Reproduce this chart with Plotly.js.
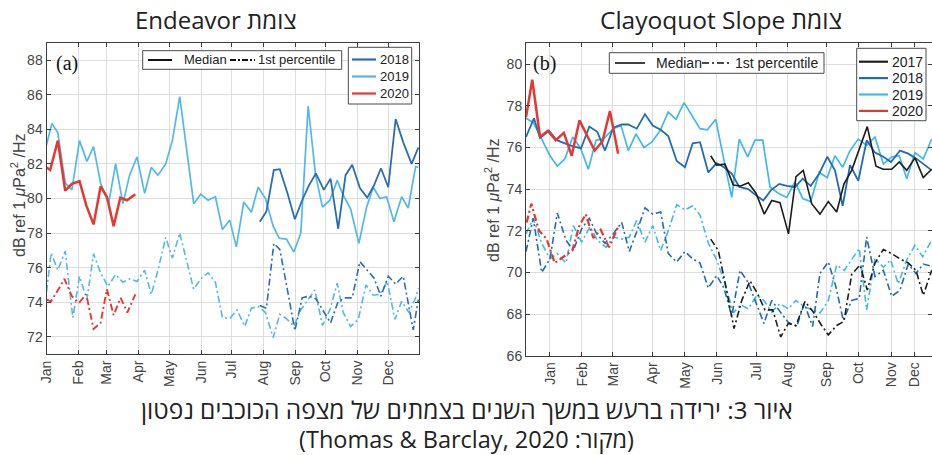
<!DOCTYPE html>
<html><head><meta charset="utf-8">
<script src="https://cdn.plot.ly/plotly-3.0.1.min.js"></script>
<style>html,body{margin:0;padding:0;background:#fff;overflow:hidden;}</style>
</head><body><div id="chart" style="width:932px;height:455px;"></div>
<script>
// ---------- DATA (x in weeks of the year, y in dB) ----------
const months = ['Jan','Feb','Mar','Apr','May','Jun','Jul','Aug','Sep','Oct','Nov','Dec'];
const leftMonthTicks  = [0,4.43,8.43,12.86,17.14,21.57,25.86,30.29,34.71,39,43.43,47.71];
const rightMonthTicks = [3.07,7.17,11.14,16.26,20.36,24.46,29.58,33.55,38.54,42.64,46.86,49.8];
const leftYTicks  = [72,74,76,78,80,82,84,86,88];
const rightYTicks = [66,68,70,72,74,76,78,80];

// Endeavor (a)
const A2019medX = [0,0.75,1.58,2.61,3.54,4.61,5.64,6.57,7.55,8.67,9.65,10.67,11.6,12.63,13.7,14.63,15.56,16.64,17.57,18.6,20.55,21.53,22.55,23.58,24.56,25.58,26.5,27.54,28.6,29.54,30.57,31.64,32.48,33.5,34.53,35.5,36.53,37.56,38.53,39.56,40.58,41.42,42.45,43.61,44.68,45.61,46.55,47.48,48.5,49.58,50.5,51.53,51.9];
const A2019medY = [83.1,84.35,83.8,80.9,80.5,83.35,82.15,83.0,80.9,79.7,82.0,79.7,81.35,82.4,80.3,81.8,81.35,82.0,83.35,85.9,79.7,80.25,79.9,80.1,78.2,78.75,77.2,79.8,79.2,80.65,80.0,78.4,77.7,77.65,76.9,78.0,85.35,81.35,79.5,79.9,81.05,80.2,79.4,77.4,79.5,80.65,80.0,80.1,78.65,80.1,79.45,81.85,81.8];
const A2018medX = [29.77,30.7,31.73,32.57,33.64,34.67,35.69,36.62,37.6,38.72,39.65,40.72,41.75,42.68,43.75,44.77,45.71,46.69,47.71,48.74,49.8,50.97,51.9];
const A2018medY = [78.65,79.25,81.65,81.7,80.3,78.8,79.9,80.75,81.45,80.5,81.15,78.25,81.35,81.95,80.6,80.05,80.75,81.75,80.65,84.6,83.25,82.0,82.95];
const A2020medX = [0,0.51,1.58,2.61,3.54,4.61,5.55,6.57,7.55,8.43,9.37,10.3,11.23,12.4];
const A2020medY = [81.8,81.65,83.35,80.45,80.85,81.0,79.6,78.5,80.7,80.1,78.4,80.05,79.9,80.25];
const A2019pctX = [0,0.65,1.58,2.61,3.68,4.61,5.64,6.57,7.55,8.57,9.65,10.67,11.6,12.63,13.7,14.63,15.56,16.64,17.57,18.6,19.52,20.55,21.53,22.55,23.58,24.56,25.58,26.6,27.68,28.6,29.54,30.57,31.64,32.57,33.5,34.53,35.5,37.46,38.53,39.56,40.58,41.42,42.45,43.52,44.59,45.61,46.55,47.57,48.64,49.58,50.6,51.53,51.9];
const A2019pctY = [74.6,76.85,75.85,76.95,73.1,75.5,74.15,76.8,75.7,74.9,75.6,75.15,75.35,75.2,75.85,74.45,75.85,77.75,76.55,78.0,76.45,74.75,75.35,75.7,75.15,73.1,73.05,73.55,72.6,73.65,73.75,73.4,71.95,73.3,73.05,72.6,73.55,74.7,72.65,73.55,75.1,73.4,72.6,73.0,75.0,74.4,74.45,75.2,73.0,74.05,73.4,74.25,74.8];
const A2018pctX = [29.77,30.7,31.73,32.57,33.64,34.67,35.69,36.62,37.6,38.72,39.65,40.72,41.75,42.68,43.75,44.77,45.71,46.69,47.71,48.74,49.8,50.74,51.2,51.9];
const A2018pctY = [73.8,73.65,77.4,77.05,74.7,72.35,74.25,74.35,74.2,73.4,72.8,74.05,74.25,74.25,76.35,75.85,75.4,74.35,75.5,75.05,75.5,73.4,72.4,74.15];
const A2020pctX = [0,0.65,1.6,2.5,3.54,4.52,5.55,6.57,7.55,8.43,9.37,10.35,11.28,12.4];
const A2020pctY = [74.15,74.05,74.7,75.35,74.35,73.95,74.45,72.45,72.8,74.75,73.25,74.25,73.4,74.45];

// Clayoquot Slope (b)
const B2020medX = [0,0.8,1.8,2.8,3.8,4.85,5.85,6.85,7.85,8.8,9.8,10.75,11.8];
const B2020medY = [77.45,79.25,76.5,76.8,76.35,76.7,75.6,77.3,76.55,75.85,76.3,77.75,75.7];
const B2018medX = [0,1.02,1.79,2.95,3.93,5.64,7.04,8.11,9.13,10.12,11.18,12.26,13.1,14.18,15.24,16.23,17.25,18.22,19.3,20.36,21.35,22.29,23.35,24.42,25.36,26.35,27.32,28.47,29.46,30.39,31.38,32.44,33.39,34.45,35.44,36.46,37.56,38.59,39.57,40.56,41.5,42.56,43.64,44.7,45.77,46.75,47.9,48.96,50.04,51.96];
const B2018medY = [76.5,77.4,76.45,76.8,76.35,76.1,75.95,77.0,76.75,75.85,76.95,77.1,77.1,76.9,77.6,77.05,76.85,76.55,75.35,75.05,76.2,76.25,74.8,75.25,75.05,74.75,74.1,74.0,73.7,73.45,73.95,74.25,74.15,74.1,74.5,74.15,74.75,75.55,74.9,73.2,75.15,74.4,76.35,75.75,75.55,75.3,75.85,75.7,75.45,74.9];
const B2019medX = [0,0.93,2.01,3.07,4.01,4.99,5.98,7.01,7.98,8.97,9.9,11.18,12.17,13.1,14.09,15.11,16.1,17.16,18.22,19.21,20.24,21.22,22.29,23.22,24.3,25.27,26.35,27.32,28.39,29.33,30.32,31.25,32.31,33.39,34.45,35.44,36.46,37.56,38.59,39.57,40.56,41.5,42.56,43.64,44.7,45.77,46.84,47.81,48.76,49.82,50.88,51.96];
const B2019medY = [77.4,77.2,76.4,75.6,75.1,75.45,76.5,75.95,74.95,76.35,76.4,76.9,77.05,75.85,76.65,76.0,76.25,76.8,77.7,77.35,78.15,77.55,76.9,76.85,77.35,75.55,73.6,76.4,75.55,76.35,76.35,74.1,73.8,73.6,74.35,73.55,73.4,74.8,74.55,75.6,75.05,75.85,76.4,76.1,76.5,75.2,75.55,75.6,74.5,75.75,75.45,76.4];
const B2017medX = [23.66,24.42,25.49,26.55,27.5,28.47,29.46,30.52,31.47,32.53,33.62,34.58,35.51,36.59,37.65,38.72,39.79,40.73,41.71,42.78,43.71,44.83,45.76,46.84,47.81,48.76,49.82,50.88,51.96];
const B2017medY = [75.6,75.15,75.2,74.2,74.15,74.3,73.8,72.8,73.45,73.35,71.85,74.6,74.9,73.3,72.8,73.4,72.9,74.25,74.9,76.0,77.0,75.1,74.95,74.95,75.3,74.9,75.5,74.55,74.95];
const B2020pctX = [0.09,0.68,1.67,2.65,3.68,4.78,5.93,6.79,7.65,8.62,9.57,10.63,11.82];
const B2020pctY = [72.4,73.3,72.0,71.6,70.45,70.75,71.05,72.2,72.8,71.65,72.05,71.2,72.2];
const B2018pctX = [0,0.93,2.01,3.07,4.01,5.12,6.06,7.13,8.1,9.06,10.12,11.18,12.26,13.23,14.18,15.24,16.23,17.25,18.22,19.3,20.36,21.35,22.29,23.35,24.42,25.36,26.35,27.41,28.47,29.55,30.48,31.47,32.53,33.59,34.67,35.64,36.71,37.65,38.72,39.7,40.63,41.71,42.68,43.63,44.7,45.77,46.84,47.9,48.96,49.94,50.88,51.96];
const B2018pctY = [71.0,72.6,70.0,70.65,72.85,71.55,71.05,72.1,72.6,71.85,71.4,71.85,72.4,71.0,71.95,73.1,72.8,72.9,70.9,70.5,71.0,70.65,70.45,69.25,69.85,69.25,67.9,70.1,69.5,68.5,67.55,68.65,68.1,67.6,67.4,68.5,67.4,69.95,70.5,69.3,67.7,68.65,68.75,71.7,69.8,70.1,68.85,69.15,70.4,69.95,70.4,70.3];
const B2019pctX = [0,0.93,2.01,3.07,4.01,5.12,6.06,7.13,8.2,9.13,10.25,11.18,12.26,13.23,14.18,15.24,16.23,17.25,18.22,19.3,20.36,21.35,22.29,23.35,24.42,25.49,26.55,27.5,28.47,29.55,30.48,31.47,32.53,33.59,34.58,35.64,36.71,37.65,38.72,39.79,40.77,41.71,42.68,43.63,44.7,45.77,46.7,47.68,48.76,49.82,50.81,51.96];
const B2019pctY = [71.85,72.6,71.4,70.65,70.9,70.45,72.25,71.45,72.2,71.55,71.2,71.7,71.6,71.7,72.5,71.45,72.25,71.05,72.0,73.25,73.0,73.2,72.75,71.4,70.6,69.45,68.05,68.45,68.25,68.9,68.65,68.1,68.5,68.25,68.65,68.35,68.2,68.05,68.65,70.35,70.1,70.6,71.15,68.2,70.65,70.25,70.6,69.45,70.6,71.3,70.75,71.55];
const B2017pctX = [23.66,24.63,25.61,26.64,27.63,28.69,29.62,30.61,31.6,32.62,33.59,34.58,35.73,36.8,37.78,38.72,39.79,40.73,41.71,42.78,43.71,44.7,45.77,46.84,47.9,48.96,49.95,50.88,51.96];
const B2017pctY = [71.6,71.05,69.3,67.3,68.65,69.6,69.0,68.2,68.2,66.9,67.55,67.45,68.6,68.1,67.5,67.0,67.45,67.65,69.9,70.35,69.15,70.45,71.1,70.9,70.65,70.45,70.1,68.9,70.1];

// ---------- STYLE ----------
const W = 932, H = 455;
const px = v => v / W, py = v => 1 - v / H;
const C17 = '#1c1c1c', C18 = '#2a6db4', C19 = '#52b8e8', C20 = '#e23a33';
const C18b = '#1f6cb5', C19b = '#3fbae9';
const DD = '7px,3px,2px,3px';
const TICKF = {family:'Liberation Sans, Arial, sans-serif', size:14, color:'#444'};
const HEB = 'Open Sans, DejaVu Sans, sans-serif';
const rtl = s => '\u202B' + s + '\u202C';

function tr(x, y, color, width, dash, xa, ya) {
  return {x:x, y:y, type:'scatter', mode:'lines', xaxis:xa, yaxis:ya, hoverinfo:'skip',
    line:{color:color, width:width, dash:dash||'solid'}, showlegend:false};
}
const traces = [
  tr(A2019pctX, A2019pctY, C19, 1.6, DD, 'x', 'y'),
  tr(A2018pctX, A2018pctY, C18, 1.6, DD, 'x', 'y'),
  tr(A2020pctX, A2020pctY, C20, 1.9, DD, 'x', 'y'),
  tr(A2019medX, A2019medY, C19, 1.7, null, 'x', 'y'),
  tr(A2018medX, A2018medY, C18, 1.8, null, 'x', 'y'),
  tr(A2020medX, A2020medY, C20, 2.5, null, 'x', 'y'),
  tr(B2019pctX, B2019pctY, C19b, 1.6, DD, 'x2', 'y2'),
  tr(B2018pctX, B2018pctY, C18b, 1.6, DD, 'x2', 'y2'),
  tr(B2017pctX, B2017pctY, C17, 1.6, DD, 'x2', 'y2'),
  tr(B2020pctX, B2020pctY, C20, 2.2, DD, 'x2', 'y2'),
  tr(B2019medX, B2019medY, C19b, 1.7, null, 'x2', 'y2'),
  tr(B2018medX, B2018medY, C18b, 1.8, null, 'x2', 'y2'),
  tr(B2017medX, B2017medY, C17, 1.6, null, 'x2', 'y2'),
  tr(B2020medX, B2020medY, C20, 2.5, null, 'x2', 'y2')
];

const axBase = {showline:true, mirror:'ticks', linecolor:'#3c3c3c', linewidth:1,
  ticks:'inside', ticklen:4, tickcolor:'#3c3c3c', showgrid:true, gridcolor:'#dedede',
  gridwidth:1, zeroline:false, tickfont:TICKF, fixedrange:true};
function xAx(dom, ticks) {
  return Object.assign({}, axBase, {domain:dom, range:[0,52], tickmode:'array',
    tickvals:ticks, ticktext:months, tickangle:-90});
}
function yAx(dom, rng, ticks, anchor) {
  return Object.assign({}, axBase, {domain:dom, range:rng, tickmode:'array',
    tickvals:ticks, ticktext:ticks.map(String), anchor:anchor});
}

const shapes = [], ann = [];
function box(x0, y0, x1, y1) {
  shapes.push({type:'rect', xref:'paper', yref:'paper', x0:px(x0), x1:px(x1), y0:py(y1), y1:py(y0),
    line:{color:'#4a4a4a', width:1}, fillcolor:'#fff', layer:'above'});
}
function seg(x0, x1, y, color, width, dash) {
  shapes.push({type:'line', xref:'paper', yref:'paper', x0:px(x0), x1:px(x1), y0:py(y), y1:py(y),
    line:{color:color, width:width, dash:dash||'solid'}, layer:'above'});
}
function label(x, y, text, size, opts) {
  ann.push(Object.assign({xref:'paper', yref:'paper', x:px(x), y:py(y), text:text, showarrow:false,
    xanchor:'left', yanchor:'middle', font:{family:'Liberation Sans, Arial, sans-serif', size:size, color:'#222'}}, opts||{}));
}

// Panel (a) legends
box(142.7, 50.7, 341.7, 69.3);
seg(148, 172, 60, '#111', 2);
label(182, 60, 'Median', 13);
seg(230, 255, 60, '#111', 2, '6px,2px,2px,2px');
label(256, 60, '1st percentile', 13);
box(348.3, 47.3, 411.7, 104);
[['2018', C18], ['2019', C19], ['2020', C20]].forEach((e, i) => {
  const yy = 59.5 + i * 17; seg(352, 376, yy, e[1], 2.2); label(378, yy, e[0], 13);
});
// Panel (b) legends
box(609.3, 52.7, 824, 73.3);
seg(615, 645, 63, '#111', 1.6);
label(654, 63, 'Median', 14);
seg(702, 732, 63, '#111', 1.6, '7px,3px,2px,3px');
label(733, 63, '1st percentile', 14);
box(856.7, 48.3, 926, 120.7);
[['2017', C17], ['2018', C18b], ['2019', C19b], ['2020', C20]].forEach((e, i) => {
  const yy = 61.7 + i * 16.4; seg(859, 888, yy, e[1], 2.2); label(890, yy, e[0], 14);
});

// panel letters
label(54, 64, '(a)', 20, {font:{family:'Liberation Serif, Times New Roman, serif', size:20, color:'#111'}});
label(531, 64, '(b)', 20, {font:{family:'Liberation Serif, Times New Roman, serif', size:20, color:'#111'}});

// y titles
const ytxt = 'dB ref 1 <i>μ</i>Pa<sup>2</sup> /Hz';
label(18, 195, ytxt, 16, {xanchor:'center', textangle:-90, font:{family:'Liberation Sans, Arial, sans-serif', size:16, color:'#444'}});
label(492, 200, ytxt, 16, {xanchor:'center', textangle:-90, font:{family:'Liberation Sans, Arial, sans-serif', size:16, color:'#444'}});

// Hebrew titles and caption
label(216, 20, rtl('צומת Endeavor'), 24, {xanchor:'center', font:{family:HEB, size:24, color:'#222'}});
label(721, 20, rtl('צומת Clayoquot Slope'), 24.5, {xanchor:'center', font:{family:HEB, size:24.5, color:'#222'}});
label(467, 409, rtl('איור 3: ירידה ברעש במשך השנים בצמתים של מצפה הכוכבים נפטון'), 24.5, {xanchor:'center', font:{family:HEB, size:24.5, color:'#222'}});
label(466, 439, rtl('(מקור: Thomas & Barclay, 2020)'), 23.5, {xanchor:'center', font:{family:HEB, size:23.5, color:'#222'}});

const layout = {
  width:W, height:H, margin:{l:0, r:0, t:0, b:0}, paper_bgcolor:'#fff', plot_bgcolor:'#fff',
  showlegend:false,
  xaxis: Object.assign(xAx([px(46.5), px(419)], leftMonthTicks), {anchor:'y'}),
  yaxis: yAx([py(354), py(43)], [71, 89], leftYTicks, 'x'),
  xaxis2: Object.assign(xAx([px(526), 1], rightMonthTicks), {anchor:'y2'}),
  yaxis2: yAx([py(355.7), py(43.3)], [66, 81], rightYTicks, 'x2'),
  shapes:shapes, annotations:ann
};
Plotly.newPlot('chart', traces, layout, {staticPlot:true, displayModeBar:false});
</script></body></html>
